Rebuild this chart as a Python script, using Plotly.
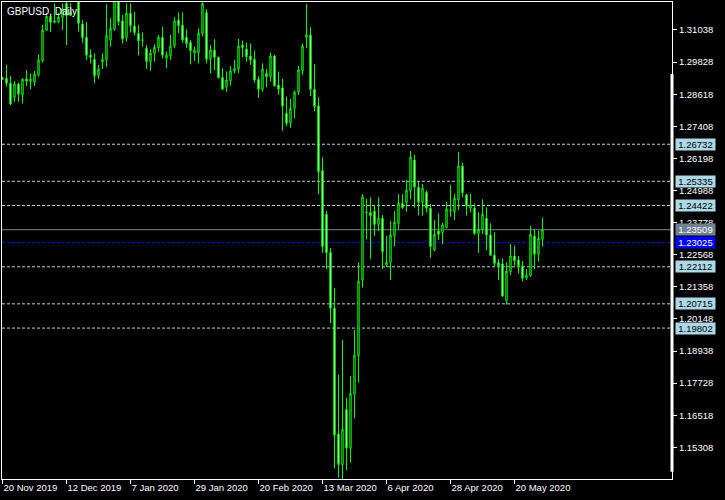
import pandas as pd
import plotly.graph_objects as go

# ---- data -------------------------------------------------------------
holidays = ["2019-12-25", "2020-01-01"]
dates = [d.strftime("%Y-%m-%d") for d in pd.bdate_range("2019-11-20", "2020-05-29")
         if d.strftime("%Y-%m-%d") not in holidays]

opens = [1.2923,1.2922,1.2903,1.2850,1.2900,1.2860,1.2919,1.2910,1.2907,1.2935,
         1.2988,1.3102,1.3155,1.3138,1.3134,1.3152,1.3204,1.3158,1.3330,1.3330,
         1.3126,1.3076,1.3009,1.2993,1.2933,1.2984,1.2991,1.3066,1.3106,1.3255,
         1.3138,1.3075,1.3167,1.3119,1.3091,1.3067,1.3035,1.2984,1.3016,1.3037,
         1.3076,1.2997,1.3007,1.3045,1.3141,1.3122,1.3076,1.3057,1.3016,1.3018,
         1.3091,1.3170,1.2993,1.3028,1.3001,1.2925,1.2888,1.2913,1.2949,1.2956,
         1.3047,1.3032,1.3006,1.2993,1.2918,1.2880,1.2940,1.2928,1.3006,1.2896,
         1.2886,1.2790,1.2752,1.2809,1.2869,1.2950,1.3076,1.3085,1.2880,1.2818,
         1.2574,1.2409,1.2266,1.2055,1.1581,1.1466,1.1673,1.1527,1.1731,1.1876,
         1.2162,1.2418,1.2416,1.2421,1.2371,1.2394,1.2218,1.2228,1.2328,1.2375,
         1.2450,1.2453,1.2498,1.2614,1.2511,1.2454,1.2492,1.2432,1.2274,1.2346,
         1.2340,1.2359,1.2426,1.2419,1.2463,1.2591,1.2482,1.2432,1.2432,1.2337,
         1.2352,1.2394,1.2331,1.2255,1.2227,1.2222,1.2083,1.2193,1.2252,1.2237,
         1.2214,1.2170,1.2177,1.2327,1.2258,1.2315]
highs = [1.2927,1.2972,1.2930,1.2911,1.2905,1.2922,1.2953,1.2940,1.2949,1.3012,
         1.3123,1.3167,1.3164,1.3204,1.3167,1.3204,1.3230,1.3204,1.3420,1.3340,
         1.3141,1.3133,1.3031,1.3016,1.2972,1.3016,1.3200,1.3148,1.3284,1.3265,
         1.3160,1.3204,1.3204,1.3172,1.3122,1.3095,1.3047,1.3031,1.3050,1.3085,
         1.3116,1.3022,1.3085,1.3152,1.3170,1.3170,1.3106,1.3066,1.3041,1.3110,
         1.3217,1.3183,1.3047,1.3069,1.3003,1.2959,1.2947,1.2968,1.2991,1.3071,
         1.3063,1.3056,1.3053,1.3026,1.2930,1.2978,1.2957,1.3018,1.3010,1.2947,
         1.2919,1.2852,1.2844,1.2875,1.2968,1.3053,1.3202,1.3114,1.2975,1.2850,
         1.2624,1.2421,1.2282,1.2132,1.1804,1.1935,1.1718,1.1799,1.1973,1.2228,
         1.2485,1.2467,1.2473,1.2444,1.2473,1.2406,1.2327,1.2384,1.2421,1.2485,
         1.2485,1.2538,1.2648,1.2633,1.2532,1.2523,1.2500,1.2448,1.2387,1.2413,
         1.2377,1.2456,1.2519,1.2485,1.2645,1.2603,1.2486,1.2485,1.2450,1.2416,
         1.2465,1.2435,1.2375,1.2341,1.2240,1.2243,1.2228,1.2297,1.2291,1.2252,
         1.2233,1.2202,1.2365,1.2352,1.2346,1.2396]
lows = [1.2915,1.2890,1.2821,1.2833,1.2833,1.2827,1.2893,1.2880,1.2893,1.2928,
        1.2981,1.3101,1.3096,1.3129,1.3129,1.3104,1.3047,1.3156,1.3290,1.3098,
        1.3056,1.2991,1.2978,1.2903,1.2919,1.2957,1.2965,1.3041,1.3101,1.3121,
        1.3053,1.3060,1.3094,1.3084,1.3009,1.3041,1.2957,1.2950,1.2984,1.3022,
        1.2997,1.2961,1.2991,1.3035,1.3091,1.3056,1.3037,1.2974,1.2987,1.2978,
        1.3079,1.2978,1.2940,1.2953,1.2922,1.2877,1.2871,1.2894,1.2940,1.2942,
        1.3001,1.2984,1.2972,1.2905,1.2848,1.2871,1.2888,1.2909,1.2890,1.2861,
        1.2724,1.2742,1.2735,1.2771,1.2859,1.2934,1.3035,1.2855,1.2798,1.2485,
        1.2264,1.2202,1.2000,1.1451,1.1417,1.1411,1.1445,1.1473,1.1640,1.1776,
        1.2134,1.2316,1.2240,1.2328,1.2346,1.2203,1.2211,1.2161,1.2287,1.2354,
        1.2429,1.2419,1.2467,1.2435,1.2406,1.2404,1.2416,1.2245,1.2270,1.2312,
        1.2296,1.2356,1.2400,1.2387,1.2425,1.2473,1.2404,1.2416,1.2331,1.2264,
        1.2335,1.2274,1.2252,1.2211,1.2161,1.2098,1.2069,1.2180,1.2215,1.2186,
        1.2157,1.2161,1.2174,1.2203,1.2230,1.2287]
closes = [1.2920,1.2903,1.2825,1.2900,1.2862,1.2918,1.2911,1.2919,1.2937,1.2990,
          1.3103,1.3155,1.3133,1.3133,1.3152,1.3183,1.3158,1.3170,1.3340,1.3129,
          1.3075,1.3009,1.3001,1.2931,1.2956,1.2993,1.3084,1.3110,1.3255,1.3135,
          1.3070,1.3167,1.3120,1.3094,1.3063,1.3065,1.2985,1.3016,1.3038,1.3076,
          1.3009,1.3009,1.3044,1.3138,1.3120,1.3066,1.3053,1.3026,1.3028,1.3091,
          1.3204,1.2993,1.3028,1.3001,1.2924,1.2880,1.2915,1.2949,1.2957,1.3043,
          1.3037,1.3003,1.2991,1.2915,1.2880,1.2957,1.2928,1.3006,1.2894,1.2881,
          1.2817,1.2752,1.2808,1.2869,1.2953,1.3043,1.3085,1.2880,1.2815,1.2569,
          1.2287,1.2264,1.2055,1.1577,1.1466,1.1598,1.1527,1.1734,1.1878,1.2157,
          1.2475,1.2415,1.2404,1.2371,1.2394,1.2268,1.2228,1.2331,1.2379,1.2450,
          1.2434,1.2500,1.2624,1.2511,1.2454,1.2507,1.2432,1.2287,1.2333,1.2333,
          1.2369,1.2429,1.2424,1.2469,1.2591,1.2490,1.2441,1.2444,1.2337,1.2352,
          1.2409,1.2331,1.2255,1.2224,1.2215,1.2101,1.2195,1.2252,1.2234,1.2215,
          1.2168,1.2180,1.2334,1.2258,1.2318,1.2351]

price_ticks = [1.31038, 1.29828, 1.28618, 1.27408, 1.26198, 1.24988, 1.23778,
               1.22568, 1.21358, 1.20148, 1.18938, 1.17728, 1.16518, 1.15308]
date_tick_vals = ["2019-11-20", "2019-12-12", "2020-01-07", "2020-01-29", "2020-02-20",
                  "2020-03-13", "2020-04-06", "2020-04-28", "2020-05-20"]
date_tick_text = ["20 Nov 2019", "12 Dec 2019", "7 Jan 2020", "29 Jan 2020", "20 Feb 2020",
                  "13 Mar 2020", "6 Apr 2020", "28 Apr 2020", "20 May 2020"]

level_values = [1.26732, 1.25335, 1.24422, 1.22112, 1.20715, 1.19802]
blue_level = 1.23025
bid_level = 1.23509

symbol_title = "GBPUSD, Daily"

# ---- figure -----------------------------------------------------------
FONT = "Liberation Sans, Arial, sans-serif"
LIME = "#00FF00"

fig = go.Figure()
fig.add_trace(go.Candlestick(
    x=dates, open=opens, high=highs, low=lows, close=closes,
    increasing=dict(line=dict(color=LIME, width=1), fillcolor="#000000"),
    decreasing=dict(line=dict(color=LIME, width=1), fillcolor="#FFFFFF"),
    whiskerwidth=0, hoverinfo="skip", showlegend=False,
))

shapes = []
for lv in level_values:
    shapes.append(dict(type="line", xref="paper", x0=0, x1=1, yref="y", y0=lv, y1=lv,
                       line=dict(color="#ADD8E6", width=1, dash="3px,2px"), layer="below"))
shapes.append(dict(type="line", xref="paper", x0=0, x1=1, yref="y", y0=blue_level, y1=blue_level,
                   line=dict(color="#0000FF", width=1, dash="3px,2px"), layer="below"))
shapes.append(dict(type="line", xref="paper", x0=0, x1=1, yref="y", y0=bid_level, y1=bid_level,
                   line=dict(color="#778899", width=1), layer="below"))
# thick segment on right frame
shapes.append(dict(type="line", xref="paper", x0=1, x1=1, yref="paper", y0=0.015, y1=0.849,
                   line=dict(color="#FFFFFF", width=3), layer="above"))

annotations = [dict(text=symbol_title, xref="paper", yref="paper", x=0, y=1,
                    xanchor="left", yanchor="top", xshift=3, yshift=-2, showarrow=False,
                    font=dict(family=FONT, size=10, color="#FFFFFF"))]

def level_label(val, bg, fg):
    return dict(text=f"{val:.5f}", xref="paper", yref="y", x=1, y=val,
                xanchor="left", yanchor="middle", xshift=3, showarrow=False,
                bgcolor=bg, borderpad=0, width=39, height=11,
                font=dict(family=FONT, size=9.5, color=fg))

for lv in level_values:
    annotations.append(level_label(lv, "#ADD8E6", "#000000"))
annotations.append(level_label(bid_level, "#708090", "#FFFFFF"))
annotations.append(level_label(blue_level, "#0000FF", "#FFFFFF"))

fig.update_layout(
    width=725, height=500,
    margin=dict(l=2, r=53, t=2, b=21),
    paper_bgcolor="#000000", plot_bgcolor="#000000",
    font=dict(family=FONT, size=9.5, color="#FFFFFF"),
    shapes=shapes, annotations=annotations,
    showlegend=False, hovermode=False, boxgap=0.5,
)
fig.update_xaxes(
    type="category", categoryorder="array", categoryarray=dates,
    range=[-0.125, 167.375], rangeslider=dict(visible=False),
    showgrid=False, zeroline=False,
    showline=True, linecolor="#FFFFFF", linewidth=1, mirror=True,
    ticks="outside", ticklen=4, tickcolor="#FFFFFF",
    tickvals=date_tick_vals, ticktext=date_tick_text,
    ticklabelposition="outside right",
    tickfont=dict(family=FONT, size=9.5, color="#FFFFFF"),
)
fig.update_yaxes(
    side="right", range=[1.14113, 1.32093],
    showgrid=False, zeroline=False,
    showline=True, linecolor="#FFFFFF", linewidth=1, mirror=True,
    ticks="outside", ticklen=4, tickcolor="#FFFFFF",
    tickvals=price_ticks, ticktext=[f"{v:.5f}" for v in price_ticks],
    tickfont=dict(family=FONT, size=9.5, color="#FFFFFF"),
)

fig.write_html("out.html", config={"displayModeBar": False},
               post_script="document.body.style.margin='0';document.body.style.background='#000';")
